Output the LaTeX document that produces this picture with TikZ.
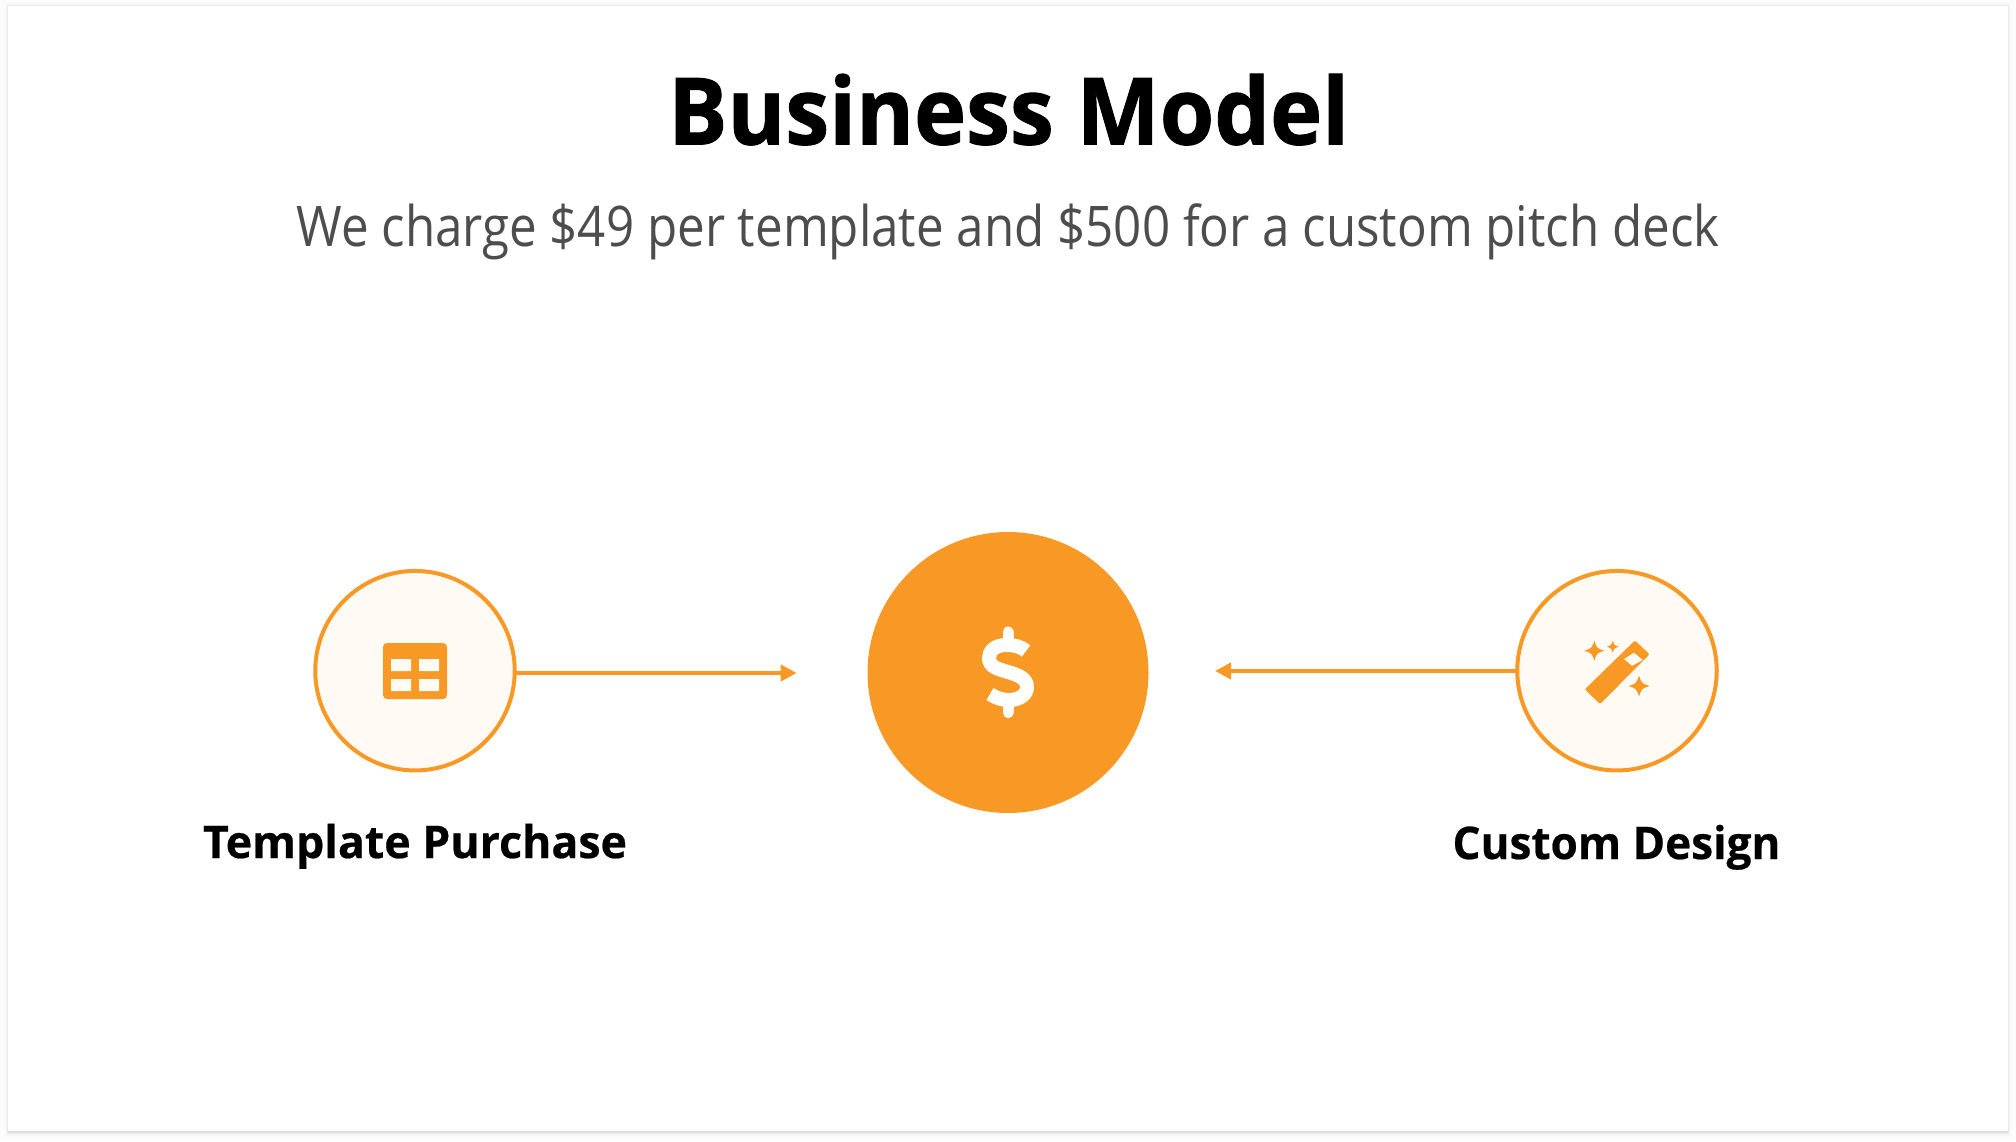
\documentclass[tikz,border=0pt]{standalone}
\usepackage{fontspec}
\usepackage{graphicx}
\usetikzlibrary{arrows.meta}
\setmainfont{Open Sans}
\newfontfamily\heavyfont[BoldFeatures={FakeBold=1.0}]{Open Sans}
\newfontfamily\semiheavyfont[BoldFeatures={FakeBold=0.5}]{Open Sans}
\definecolor{accent}{HTML}{F89925}
\definecolor{softfill}{HTML}{FFFAF4}
\definecolor{subgray}{HTML}{4D4D4D}
\newcommand{\fitwidth}[2]{\resizebox{#1pt}{\height}{#2}}
\newcommand{\sparkleat}[3]{%
  \fill[accent] (#1,#2-#3) .. controls (#1+0.25*#3,#2-0.25*#3) .. (#1+#3,#2)
    .. controls (#1+0.25*#3,#2+0.25*#3) .. (#1,#2+#3)
    .. controls (#1-0.25*#3,#2+0.25*#3) .. (#1-#3,#2)
    .. controls (#1-0.25*#3,#2-0.25*#3) .. cycle;}
\tikzset{
  smallcircle/.style={circle,draw=accent,fill=softfill,line width=4pt,minimum size=199.5pt,inner sep=0pt,outer sep=0pt},
  bigcircle/.style={circle,fill=accent,minimum size=281pt,inner sep=0pt,outer sep=0pt},
  flow/.style={draw=accent,line width=4pt,-{Triangle[length=16pt,width=16pt]}},
  labeltext/.style={anchor=base,inner sep=0pt,text=black,font=\semiheavyfont\bfseries\fontsize{45pt}{50pt}\selectfont},
}
\begin{document}
\begin{tikzpicture}[x=1pt,y=-1pt]
\useasboundingbox (0,0) rectangle (2016,1141);
\fill[white!99!black] (0,0) rectangle (2016,1141);
% slide shadow
\fill[black!2] (4,2) rectangle (2012,1138);
\fill[black!4] (6,4) rectangle (2010,1136);
\fill[black!8] (7,5) rectangle (2008.5,1134);
\fill[black!13] (8,1131) rectangle (2007.5,1132.5);
\fill[white] (8,6) rectangle (2007.5,1131);
% texts
\node[anchor=base,inner sep=0pt,text=black] (title) at (1008.7,144.5)
  {\fitwidth{681}{\heavyfont\bfseries\fontsize{93pt}{110pt}\selectfont Business Model}};
\node[anchor=base,inner sep=0pt,text=subgray] (subtitle) at (1008,246)
  {\fitwidth{1423}{\fontsize{56pt}{64pt}\selectfont We charge \$49 per template and \$500 for a custom pitch deck}};
% circles
\node[smallcircle] (left) at (415,670.7) {};
\node[bigcircle] (center) at (1008,672.5) {};
\node[smallcircle] (right) at (1617,670.7) {};
\node[labeltext] (leftlabel) at (415,858) {\fitwidth{424}{Template Purchase}};
\node[labeltext] (rightlabel) at (1616.5,859) {\fitwidth{328}{Custom Design}};
% connectors
\coordinate (lefttip) at (796.7,673);
\coordinate (righttip) at (1215,671);
\draw[flow] (left.east |- lefttip) -- (lefttip);
\draw[flow] (right.west |- righttip) -- (righttip);
% table icon
\fill[accent,rounded corners=4pt,even odd rule]
  (383,643) rectangle (447,699);
\fill[softfill] (391,659) rectangle (411,671) (419,659) rectangle (439,671)
  (391,679) rectangle (411,691) (419,679) rectangle (439,691);
% dollar icon
\draw[white,line width=11pt,line cap=round] (1008,632) -- (1008,640);
\draw[white,line width=11pt,line cap=round] (1008,705) -- (1008,712.5);
\draw[white,line width=14pt]
  (1026,651) .. controls (1020,646) and (1014,645) .. (1006,645)
  .. controls (995,645) and (989,651) .. (989,658)
  .. controls (989,667) and (998,669) .. (1008,672)
  .. controls (1019,675) and (1027,679) .. (1027,687)
  .. controls (1027,695) and (1019,700) .. (1009,700)
  .. controls (1002,700) and (996,698) .. (990,694);
% wand icon
\filldraw[accent,line width=3pt,line join=round]
  (1635,642.5) -- (1647.3,654.3) -- (1600,702) -- (1587,689.3) -- cycle;
\fill[softfill] (1634,652.7) -- (1642.7,660) -- (1632,665.7) -- (1624,659) -- cycle;
\sparkleat{1594.3}{650.7}{10}
\sparkleat{1612.7}{646.7}{6}
\sparkleat{1639}{686}{10.5}
\end{tikzpicture}
\end{document}
